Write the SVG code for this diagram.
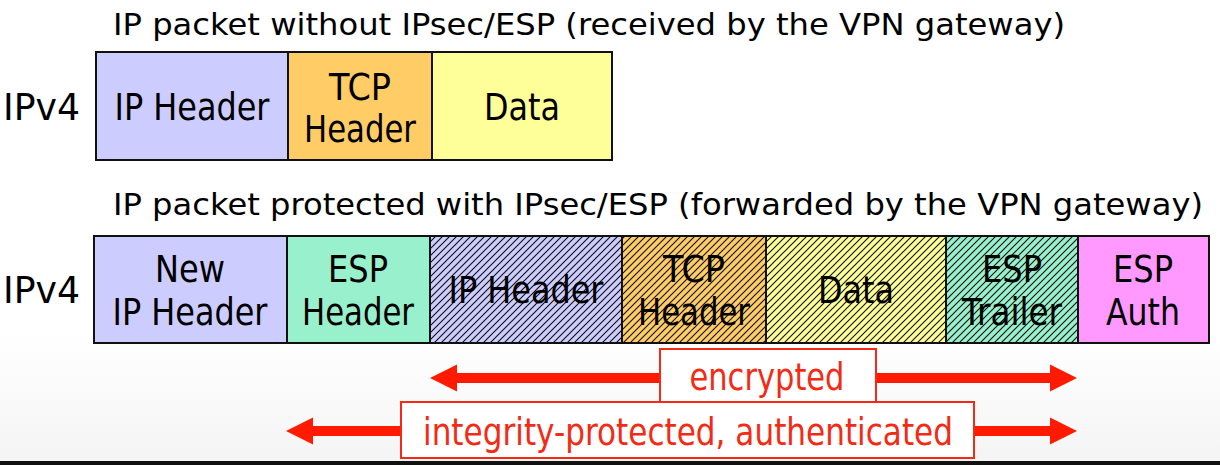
<svg xmlns="http://www.w3.org/2000/svg" width="1220" height="465" viewBox="0 0 1220 465">
<style>
.t{font-family:"DejaVu Sans","Liberation Sans",sans-serif;fill:#000;}
.title{font-size:30px;}
.lbl{font-size:37px;text-anchor:middle;}
.side{font-size:38px;}
.f{stroke:#111;stroke-width:2;}
.red{font-family:"DejaVu Sans","Liberation Sans",sans-serif;font-size:37px;fill:#f42a14;text-anchor:middle;}
.rbox{fill:#fff;stroke:#f42a14;stroke-width:2;}
.arr{fill:#ff1a00;}
</style>
<defs>
<linearGradient id="bg" x1="0" y1="0" x2="0" y2="1">
<stop offset="0" stop-color="#ffffff"/>
<stop offset="0.72" stop-color="#ffffff"/>
<stop offset="1" stop-color="#f4f4f4"/>
</linearGradient>
<pattern id="hatch" patternUnits="userSpaceOnUse" width="7" height="7">
<path d="M-1,1 L1,-1 M0,7 L7,0 M6,8 L8,6" stroke="#111" stroke-width="1.15"/>
</pattern>
</defs>
<rect x="0" y="0" width="1220" height="465" fill="url(#bg)"/>
<rect x="0" y="461" width="1220" height="4" fill="#111"/>

<text class="t title" x="113" y="35" textLength="952" lengthAdjust="spacingAndGlyphs">IP packet without IPsec/ESP (received by the VPN gateway)</text>
<text class="t title" x="113" y="215" textLength="1090" lengthAdjust="spacingAndGlyphs">IP packet protected with IPsec/ESP (forwarded by the VPN gateway)</text>

<text class="t side" x="3" y="120" textLength="77" lengthAdjust="spacingAndGlyphs">IPv4</text>
<text class="t side" x="3" y="303" textLength="77" lengthAdjust="spacingAndGlyphs">IPv4</text>

<g id="top-ip-header">
<rect class="f" x="96" y="52" width="192" height="108" fill="#ccccff"/>
<text class="t lbl" x="192" y="120" textLength="155" lengthAdjust="spacingAndGlyphs">IP Header</text>
</g>
<g id="top-tcp-header">
<rect class="f" x="288" y="52" width="144" height="108" fill="#ffcc66"/>
<text class="t lbl" x="360" y="100" textLength="62" lengthAdjust="spacingAndGlyphs">TCP</text>
<text class="t lbl" x="360" y="142" textLength="112" lengthAdjust="spacingAndGlyphs">Header</text>
</g>
<g id="top-data">
<rect class="f" x="432" y="52" width="180" height="108" fill="#ffff99"/>
<text class="t lbl" x="522" y="120" textLength="76" lengthAdjust="spacingAndGlyphs">Data</text>
</g>

<g id="new-ip-header">
<rect class="f" x="94" y="236" width="193" height="107" fill="#ccccff"/>
<text class="t lbl" x="190" y="282" textLength="70" lengthAdjust="spacingAndGlyphs">New</text>
<text class="t lbl" x="190" y="325" textLength="155" lengthAdjust="spacingAndGlyphs">IP Header</text>
</g>
<g id="esp-header">
<rect class="f" x="287" y="236" width="143" height="107" fill="#99f0cc"/>
<text class="t lbl" x="358" y="282" textLength="60" lengthAdjust="spacingAndGlyphs">ESP</text>
<text class="t lbl" x="358" y="325" textLength="112" lengthAdjust="spacingAndGlyphs">Header</text>
</g>
<g id="inner-ip-header">
<rect x="430" y="236" width="192" height="107" fill="#ccccff"/>
<rect class="f" x="430" y="236" width="192" height="107" fill="url(#hatch)"/>
<text class="t lbl" x="526" y="303" textLength="155" lengthAdjust="spacingAndGlyphs">IP Header</text>
</g>
<g id="inner-tcp-header">
<rect x="622" y="236" width="144" height="107" fill="#ffcc66"/>
<rect class="f" x="622" y="236" width="144" height="107" fill="url(#hatch)"/>
<text class="t lbl" x="694" y="282" textLength="62" lengthAdjust="spacingAndGlyphs">TCP</text>
<text class="t lbl" x="694" y="325" textLength="112" lengthAdjust="spacingAndGlyphs">Header</text>
</g>
<g id="inner-data">
<rect x="766" y="236" width="180" height="107" fill="#ffff99"/>
<rect class="f" x="766" y="236" width="180" height="107" fill="url(#hatch)"/>
<text class="t lbl" x="856" y="303" textLength="76" lengthAdjust="spacingAndGlyphs">Data</text>
</g>
<g id="esp-trailer">
<rect x="946" y="236" width="132" height="107" fill="#99f0cc"/>
<rect class="f" x="946" y="236" width="132" height="107" fill="url(#hatch)"/>
<text class="t lbl" x="1012" y="282" textLength="60" lengthAdjust="spacingAndGlyphs">ESP</text>
<text class="t lbl" x="1012" y="325" textLength="100" lengthAdjust="spacingAndGlyphs">Trailer</text>
</g>
<g id="esp-auth">
<rect class="f" x="1078" y="236" width="131" height="107" fill="#ff99ff"/>
<text class="t lbl" x="1143" y="282" textLength="60" lengthAdjust="spacingAndGlyphs">ESP</text>
<text class="t lbl" x="1143" y="325" textLength="74" lengthAdjust="spacingAndGlyphs">Auth</text>
</g>

<g id="connectors">
<path class="arr" d="M430,378 L457,364.5 L457,373 L1050,373 L1050,364.5 L1077,378 L1050,391.5 L1050,383 L457,383 L457,391.5 Z"/>
<path class="arr" d="M286,431 L313,417.5 L313,426 L1050,426 L1050,417.5 L1077,431 L1050,444.5 L1050,436 L313,436 L313,444.5 Z"/>
</g>

<g id="encrypted-label">
<rect class="rbox" x="660" y="349" width="216" height="54"/>
<text class="red" x="767" y="390" textLength="155" lengthAdjust="spacingAndGlyphs">encrypted</text>
</g>
<g id="integrity-label">
<rect class="rbox" x="401" y="402" width="573" height="56"/>
<text class="red" x="688" y="445" textLength="530" lengthAdjust="spacingAndGlyphs">integrity-protected, authenticated</text>
</g>
</svg>
